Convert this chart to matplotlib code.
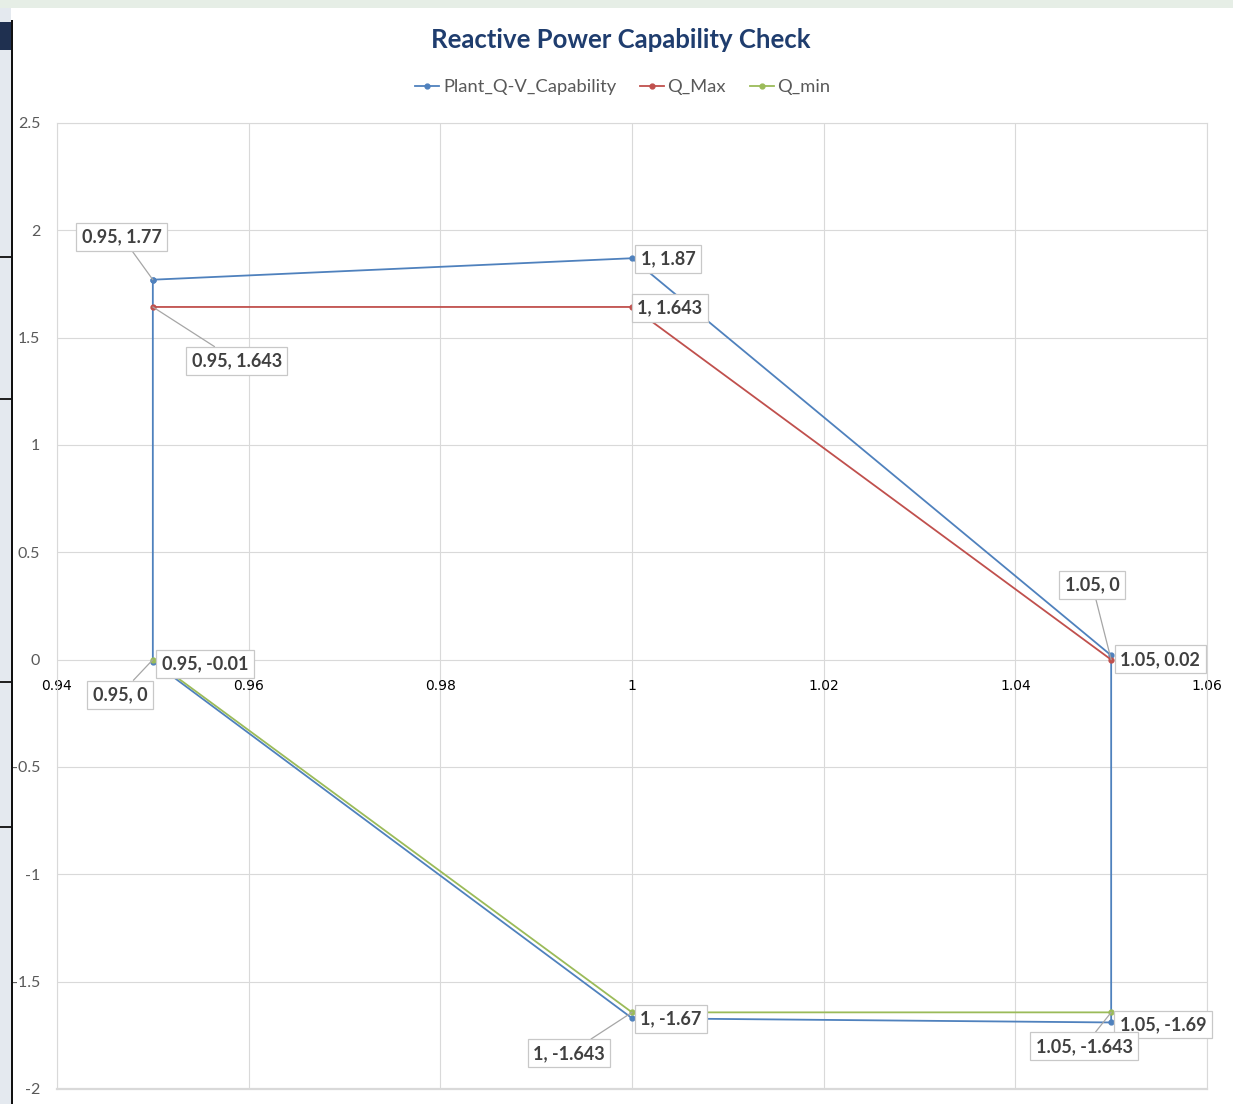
import matplotlib
matplotlib.use("Agg")
import matplotlib.pyplot as plt
from matplotlib.lines import Line2D
from matplotlib.patches import Rectangle

# ---- data ----
plant_x = [0.95, 1.00, 1.05, 1.05, 1.00, 0.95, 0.95]
plant_y = [1.77, 1.87, 0.02, -1.69, -1.67, -0.01, 1.77]
qmax_x = [0.95, 1.00, 1.05]
qmax_y = [1.643, 1.643, 0.0]
qmin_x = [0.95, 1.00, 1.05]
qmin_y = [0.0, -1.643, -1.643]
series_names = ["Plant_Q-V_Capability", "Q_Max", "Q_min"]
x_ticks = [0.94, 0.96, 0.98, 1.00, 1.02, 1.04, 1.06]
x_tick_labels = ["0.94", "0.96", "0.98", "1", "1.02", "1.04", "1.06"]
y_ticks = [2.5, 2.0, 1.5, 1.0, 0.5, 0.0, -0.5, -1.0, -1.5, -2.0]
y_tick_labels = ["2.5", "2", "1.5", "1", "0.5", "0", "-0.5", "-1", "-1.5", "-2"]
title = "Reactive Power Capability Check"

# data labels: (x, y, text, dx_px, dy_px, leader)
labels = [
    (0.95, 1.77, "0.95, 1.77", -31, 43, True),
    (1.00, 1.87, "1, 1.87", 36, -1, False),
    (1.00, 1.643, "1, 1.643", 38, -1, False),
    (0.95, 1.643, "0.95, 1.643", 84, -54, True),
    (1.05, 0.0, "1.05, 0", -19, 75, True),
    (1.05, 0.02, "1.05, 0.02", 49, -4, False),
    (0.95, -0.01, "0.95, -0.01", 52, -2, False),
    (0.95, 0.0, "0.95, 0", -33, -35, True),
    (1.00, -1.67, "1, -1.67", 39, -1, False),
    (1.00, -1.643, "1, -1.643", -63, -41, True),
    (1.05, -1.69, "1.05, -1.69", 52, -2, False),
    (1.05, -1.643, "1.05, -1.643", -27, -34, True),
]

BLUE = "#4F81BD"
RED = "#C0504D"
GREEN = "#9BBB59"
GRID = "#d9d9d9"
TXT = "#595959"
FONT = "Lato"

W, H = 1233, 1104
fig = plt.figure(figsize=(W / 100, H / 100), dpi=100)
fig.patch.set_facecolor("white")

# screenshot edge details
fig.patches.append(Rectangle((0, 0), 11 / W, 1, transform=fig.transFigure,
                             facecolor="#e4e9ef", edgecolor="none", zorder=0))
fig.patches.append(Rectangle((0, 1 - 50 / H), 11 / W, 28 / H, transform=fig.transFigure,
                             facecolor="#1f3050", edgecolor="none", zorder=0))
fig.patches.append(Rectangle((11 / W, 0), 2 / W, 1 - 20 / H, transform=fig.transFigure,
                             facecolor="#111111", edgecolor="none", zorder=0))
for yy in (258, 400, 683, 828):
    fig.patches.append(Rectangle((0, 1 - yy / H), 11 / W, 2 / H, transform=fig.transFigure,
                                 facecolor="#222222", edgecolor="none", zorder=0))
fig.patches.append(Rectangle((0, 1 - 8 / H), 1, 8 / H, transform=fig.transFigure,
                             facecolor="#e6eee6", edgecolor="none", zorder=0))

left, right, top, bottom = 57, 1207, 123, 1089
ax = fig.add_axes([left / W, 1 - bottom / H, (right - left) / W, (bottom - top) / H])
ax.set_xlim(0.94, 1.06)
ax.set_ylim(-2.0, 2.5)

ax.set_xticks(x_ticks)
ax.set_xticklabels(x_tick_labels, fontfamily=FONT, fontsize=11.5, color=TXT)
ax.set_yticks(y_ticks)
ax.set_yticklabels(y_tick_labels, fontfamily=FONT, fontsize=11.5, color=TXT)
ax.tick_params(axis="both", length=0)
ax.tick_params(axis="x", pad=14)
ax.tick_params(axis="y", pad=12)
ax.spines["bottom"].set_position(("data", 0))
ax.spines["bottom"].set_visible(False)
for s in ["top", "right", "left"]:
    ax.spines[s].set_color(GRID)
    ax.spines[s].set_linewidth(0.8)
ax.grid(True, color=GRID, linewidth=0.8)
ax.axhline(-2.0, color=GRID, linewidth=1.6, clip_on=False, zorder=0.5)
ax.set_axisbelow(True)

ms = 3.5
ax.plot(plant_x, plant_y, color=BLUE, lw=1.3, marker="o", ms=ms, zorder=3)
ax.plot(qmax_x, qmax_y, color=RED, lw=1.3, marker="o", ms=ms, zorder=3)
ax.plot(qmin_x, qmin_y, color=GREEN, lw=1.3, marker="o", ms=ms, zorder=3)

for x, y, t, dx, dy, lead in labels:
    kw = dict(xy=(x, y), xytext=(dx, dy), textcoords="offset pixels",
              ha="center", va="center", fontfamily=FONT, fontweight="bold",
              fontsize=13, color="#404040", zorder=5,
              bbox=dict(boxstyle="square,pad=0.3", facecolor="white",
                        edgecolor="#c8c8c8", linewidth=0.9))
    if lead:
        kw["arrowprops"] = dict(arrowstyle="-", color="#a6a6a6", lw=0.9,
                                shrinkA=0, shrinkB=0)
    ax.annotate(t, **kw)

fig.text(621 / W, 1 - 40 / H, title, ha="center", va="center",
         fontfamily=FONT, fontweight="bold", fontsize=18.5, color="#1F3D6E")

handles = [Line2D([], [], color=c, lw=1.3, marker="o", ms=3.5)
           for c in (BLUE, RED, GREEN)]
fig.legend(handles, series_names, loc="center", bbox_to_anchor=(623 / W, 1 - 87 / H),
           ncol=3, frameon=False, numpoints=1, handlelength=1.3, handletextpad=0.2,
           columnspacing=1.3, prop=dict(family=FONT, size=13.2), labelcolor=TXT)

fig.savefig("out.png", dpi=100, facecolor="white")
